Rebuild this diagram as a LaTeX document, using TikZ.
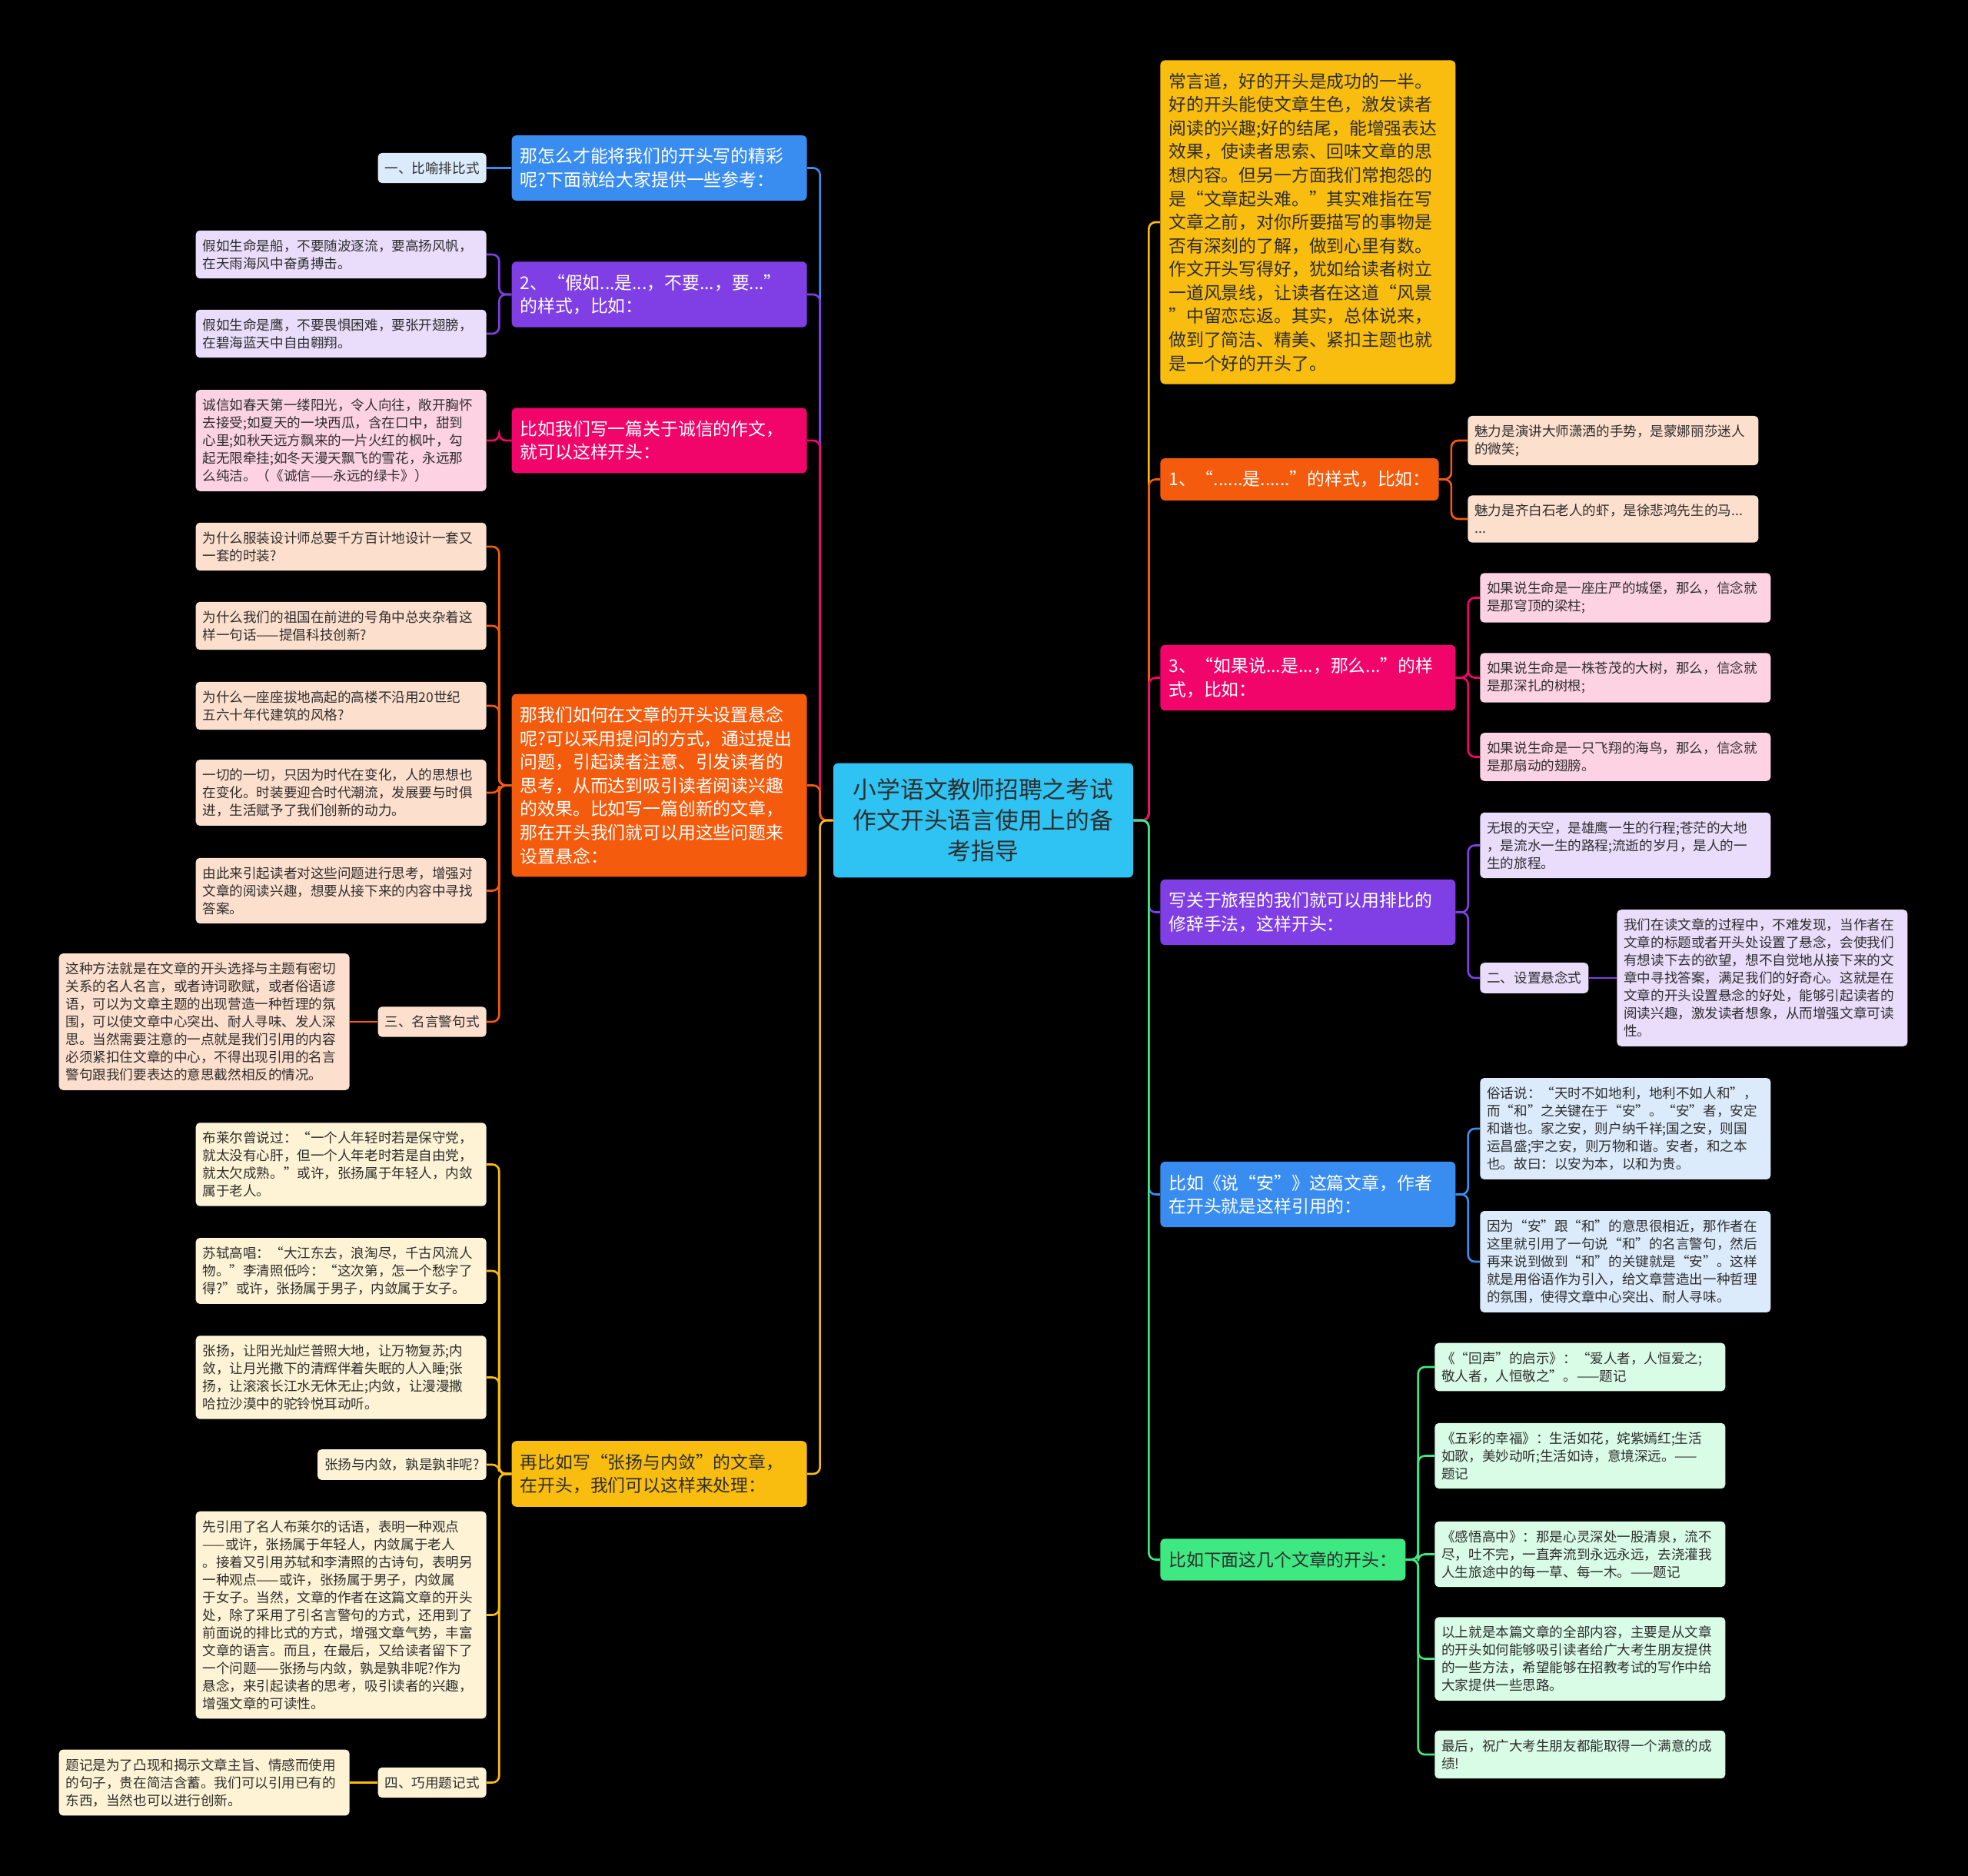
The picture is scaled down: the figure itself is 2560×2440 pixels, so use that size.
\documentclass[tikz,border=0pt]{standalone}
\usepackage{fontspec}
\newfontfamily\cjkfont{Noto Sans CJK SC}
\definecolor{rootcol}{HTML}{2EC3F2}
\definecolor{bluecol}{HTML}{3A8DF0}
\definecolor{purplecol}{HTML}{7F3FE5}
\definecolor{pinkcol}{HTML}{F2056B}
\definecolor{orangecol}{HTML}{F55B0D}
\definecolor{yellowcol}{HTML}{F9BD0F}
\definecolor{greencol}{HTML}{3EE982}
\definecolor{bluelt}{HTML}{DCEBFC}
\definecolor{purplelt}{HTML}{E9DDFB}
\definecolor{pinklt}{HTML}{FDD3E4}
\definecolor{orangelt}{HTML}{FDDFCD}
\definecolor{yellowlt}{HTML}{FEF3D4}
\definecolor{greenlt}{HTML}{D9FCE6}
\definecolor{textdark}{HTML}{2E2E2E}

\begin{document}
\begin{tikzpicture}[
  x=0.2mm, y=-0.2mm,
  every node/.style={font=\cjkfont},
  root/.style   = {rounded corners=3.5pt, fill=rootcol, text=textdark, align=center, text width=70mm, inner xsep=4mm, inner ysep=4mm, font=\cjkfont\fontsize{17.5pt}{22.8pt}\selectfont},
  branch/.style = {rounded corners=3.5pt, text=white, inner xsep=2.2mm, inner ysep=3.3mm, font=\cjkfont\fontsize{13pt}{17.4pt}\selectfont},
  main/.style   = {branch, align=flush left, text width=72.4mm},
  tag/.style    = {rounded corners=3pt, text=textdark, inner xsep=1.8mm, inner ysep=2.3mm, font=\cjkfont\fontsize{10pt}{13.1pt}\selectfont},
  leaf/.style   = {tag, align=flush left, text width=72mm},
  link/.style   = {line width=1.5pt, rounded corners=5pt},
]
  \fill[black] (0,0) rectangle (2560,2440);

  % centre
  \node[root] (root) at (1279,1067) {小学语文教师招聘之考试\\作文开头语言使用上的备\\考指导};

  % left branches
  \node[main, fill=bluecol, anchor=east]   (tigong)    at (1050,218.5) {那怎么才能将我们的开头写的精彩\\呢?下面就给大家提供一些参考：};
  \node[main, fill=purplecol, anchor=east] (jiaru)     at (1050,383)   {2、“假如...是...，不要...，要...”\\的样式，比如：};
  \node[main, fill=pinkcol, anchor=east]   (chengxin)  at (1050,573)   {比如我们写一篇关于诚信的作文，\\就可以这样开头：};
  \node[main, fill=orangecol, anchor=east] (xuannian)  at (1050,1021.5){那我们如何在文章的开头设置悬念\\呢?可以采用提问的方式，通过提出\\问题，引起读者注意、引发读者的\\思考，从而达到吸引读者阅读兴趣\\的效果。比如写一篇创新的文章，\\那在开头我们就可以用这些问题来\\设置悬念：};
  \node[main, fill=yellowcol, text=textdark, anchor=east] (zhangyang) at (1050,1917) {再比如写“张扬与内敛”的文章，\\在开头，我们可以这样来处理：};

  \node[tag, fill=bluelt, anchor=east]     (biyu)   at (633,218.5) {一、比喻排比式};
  \node[leaf, fill=purplelt, anchor=east]  (chuan)  at (633,331)  {假如生命是船，不要随波逐流，要高扬风帆，\\在天雨海风中奋勇搏击。};
  \node[leaf, fill=purplelt, anchor=east]  (ying)   at (633,434)  {假如生命是鹰，不要畏惧困难，要张开翅膀，\\在碧海蓝天中自由翱翔。};
  \node[leaf, fill=pinklt, anchor=east]    (chunt)  at (633,573)  {诚信如春天第一缕阳光，令人向往，敞开胸怀\\去接受;如夏天的一块西瓜，含在口中，甜到\\心里;如秋天远方飘来的一片火红的枫叶，勾\\起无限牵挂;如冬天漫天飘飞的雪花，永远那\\么纯洁。（《诚信——永远的绿卡》）};

  \node[leaf, fill=orangelt, anchor=east]  (wen1)   at (633,711)    {为什么服装设计师总要千方百计地设计一套又\\一套的时装?};
  \node[leaf, fill=orangelt, anchor=east]  (wen2)   at (633,814)    {为什么我们的祖国在前进的号角中总夹杂着这\\样一句话——提倡科技创新?};
  \node[leaf, fill=orangelt, anchor=east]  (wen3)   at (633,918)    {为什么一座座拔地高起的高楼不沿用20世纪\\五六十年代建筑的风格?};
  \node[leaf, fill=orangelt, anchor=east]  (wen4)   at (633,1031)   {一切的一切，只因为时代在变化，人的思想也\\在变化。时装要迎合时代潮流，发展要与时俱\\进，生活赋予了我们创新的动力。};
  \node[leaf, fill=orangelt, anchor=east]  (wen5)   at (633,1158.5) {由此来引起读者对这些问题进行思考，增强对\\文章的阅读兴趣，想要从接下来的内容中寻找\\答案。};
  \node[tag, fill=orangelt, anchor=east]   (mingyan)  at (633,1329) {三、名言警句式};
  \node[leaf, fill=orangelt, anchor=east]  (mingyanx) at (455,1329) {这种方法就是在文章的开头选择与主题有密切\\关系的名人名言，或者诗词歌赋，或者俗语谚\\语，可以为文章主题的出现营造一种哲理的氛\\围，可以使文章中心突出、耐人寻味、发人深\\思。当然需要注意的一点就是我们引用的内容\\必须紧扣住文章的中心，不得出现引用的名言\\警句跟我们要表达的意思截然相反的情况。};

  \node[leaf, fill=yellowlt, anchor=east]  (bulaier) at (633,1514.5) {布莱尔曾说过：“一个人年轻时若是保守党，\\就太没有心肝，但一个人年老时若是自由党，\\就太欠成熟。”或许，张扬属于年轻人，内敛\\属于老人。};
  \node[leaf, fill=yellowlt, anchor=east]  (sushi)   at (633,1653)   {苏轼高唱：“大江东去，浪淘尽，千古风流人\\物。”李清照低吟：“这次第，怎一个愁字了\\得?”或许，张扬属于男子，内敛属于女子。};
  \node[leaf, fill=yellowlt, anchor=east]  (yangguang) at (633,1791.5) {张扬，让阳光灿烂普照大地，让万物复苏;内\\敛，让月光撒下的清辉伴着失眠的人入睡;张\\扬，让滚滚长江水无休无止;内敛，让漫漫撒\\哈拉沙漠中的驼铃悦耳动听。};
  \node[tag, fill=yellowlt, anchor=east]   (shuishi) at (633,1905)   {张扬与内敛，孰是孰非呢?};
  \node[leaf, fill=yellowlt, anchor=east]  (xianyin) at (633,2100.5) {先引用了名人布莱尔的话语，表明一种观点\\——或许，张扬属于年轻人，内敛属于老人\\。接着又引用苏轼和李清照的古诗句，表明另\\一种观点——或许，张扬属于男子，内敛属\\于女子。当然，文章的作者在这篇文章的开头\\处，除了采用了引名言警句的方式，还用到了\\前面说的排比式的方式，增强文章气势，丰富\\文章的语言。而且，在最后，又给读者留下了\\一个问题——张扬与内敛，孰是孰非呢?作为\\悬念，来引起读者的思考，吸引读者的兴趣，\\增强文章的可读性。};
  \node[tag, fill=yellowlt, anchor=east]   (tiji)    at (633,2318.5) {四、巧用题记式};
  \node[leaf, fill=yellowlt, anchor=east]  (tijix)   at (455,2318.5) {题记是为了凸现和揭示文章主旨、情感而使用\\的句子，贵在简洁含蓄。我们可以引用已有的\\东西，当然也可以进行创新。};

  % right branches
  \node[main, fill=yellowcol, text=textdark, anchor=west] (changyan) at (1509,289) {常言道，好的开头是成功的一半。\\好的开头能使文章生色，激发读者\\阅读的兴趣;好的结尾，能增强表达\\效果，使读者思索、回味文章的思\\想内容。但另一方面我们常抱怨的\\是“文章起头难。”其实难指在写\\文章之前，对你所要描写的事物是\\否有深刻的了解，做到心里有数。\\作文开头写得好，犹如给读者树立\\一道风景线，让读者在这道“风景\\”中留恋忘返。其实，总体说来，\\做到了简洁、精美、紧扣主题也就\\是一个好的开头了。};
  \node[branch, fill=orangecol, anchor=west] (shiyang) at (1509,623.5)  {1、“......是......”的样式，比如：};
  \node[main, fill=pinkcol, anchor=west]     (ruguo)   at (1509,881.5)  {3、“如果说...是...，那么...”的样\\式，比如：};
  \node[main, fill=purplecol, anchor=west]   (lvcheng) at (1509,1186.5) {写关于旅程的我们就可以用排比的\\修辞手法，这样开头：};
  \node[main, fill=bluecol, anchor=west]     (shuoan)  at (1509,1553.5) {比如《说“安”》这篇文章，作者\\在开头就是这样引用的：};
  \node[branch, fill=greencol, text=textdark, anchor=west] (kaitou) at (1509,2028.5) {比如下面这几个文章的开头：};

  \node[leaf, fill=orangelt, anchor=west]  (meili1) at (1909,573) {魅力是演讲大师潇洒的手势，是蒙娜丽莎迷人\\的微笑;};
  \node[leaf, fill=orangelt, anchor=west]  (meili2) at (1909,675) {魅力是齐白石老人的虾，是徐悲鸿先生的马...\\...};
  \node[leaf, fill=pinklt, anchor=west]    (chengbao) at (1925,777.5) {如果说生命是一座庄严的城堡，那么，信念就\\是那穹顶的梁柱;};
  \node[leaf, fill=pinklt, anchor=west]    (dashu)    at (1925,881.5) {如果说生命是一株苍茂的大树，那么，信念就\\是那深扎的树根;};
  \node[leaf, fill=pinklt, anchor=west]    (hainiao)  at (1925,984.5) {如果说生命是一只飞翔的海鸟，那么，信念就\\是那扇动的翅膀。};
  \node[leaf, fill=purplelt, anchor=west]  (wuyin)    at (1925,1099.5) {无垠的天空，是雄鹰一生的行程;苍茫的大地\\，是流水一生的路程;流逝的岁月，是人的一\\生的旅程。};
  \node[tag, fill=purplelt, anchor=west]   (shezhi)   at (1925,1272) {二、设置悬念式};
  \node[leaf, fill=purplelt, anchor=west]  (shezhix)  at (2103,1272) {我们在读文章的过程中，不难发现，当作者在\\文章的标题或者开头处设置了悬念，会使我们\\有想读下去的欲望，想不自觉地从接下来的文\\章中寻找答案，满足我们的好奇心。这就是在\\文章的开头设置悬念的好处，能够引起读者的\\阅读兴趣，激发读者想象，从而增强文章可读\\性。};
  \node[leaf, fill=bluelt, anchor=west]    (suhua)    at (1925,1468) {俗话说：“天时不如地利，地利不如人和”，\\而“和”之关键在于“安”。“安”者，安定\\和谐也。家之安，则户纳千祥;国之安，则国\\运昌盛;宇之安，则万物和谐。安者，和之本\\也。故曰：以安为本，以和为贵。};
  \node[leaf, fill=bluelt, anchor=west]    (yinwei)   at (1925,1641) {因为“安”跟“和”的意思很相近，那作者在\\这里就引用了一句说“和”的名言警句，然后\\再来说到做到“和”的关键就是“安”。这样\\就是用俗语作为引入，给文章营造出一种哲理\\的氛围，使得文章中心突出、耐人寻味。};
  \node[leaf, fill=greenlt, anchor=west]   (huisheng) at (1866,1778)   {《“回声”的启示》：“爱人者，人恒爱之;\\敬人者，人恒敬之”。——题记};
  \node[leaf, fill=greenlt, anchor=west]   (wucai)    at (1866,1893.5) {《五彩的幸福》：生活如花，姹紫嫣红;生活\\如歌，美妙动听;生活如诗，意境深远。——\\题记};
  \node[leaf, fill=greenlt, anchor=west]   (ganwu)    at (1866,2021.5) {《感悟高中》：那是心灵深处一股清泉，流不\\尽，吐不完，一直奔流到永远永远，去浇灌我\\人生旅途中的每一草、每一木。——题记};
  \node[leaf, fill=greenlt, anchor=west]   (yishang)  at (1866,2157.5) {以上就是本篇文章的全部内容，主要是从文章\\的开头如何能够吸引读者给广大考生朋友提供\\的一些方法，希望能够在招教考试的写作中给\\大家提供一些思路。};
  \node[leaf, fill=greenlt, anchor=west]   (zuihou)   at (1866,2282)   {最后，祝广大考生朋友都能取得一个满意的成\\绩!};

  % connectors
  \foreach \b/\k in {tigong/bluecol,jiaru/purplecol,chengxin/pinkcol,xuannian/orangecol,zhangyang/yellowcol}
    \draw[link, color=\k] (root.west) -- ++(-17,0) |- (\b.east);
  \foreach \b/\k in {changyan/yellowcol,shiyang/orangecol,ruguo/pinkcol,lvcheng/purplecol,shuoan/bluecol,kaitou/greencol}
    \draw[link, color=\k] (root.east) -- ++(20,0) |- (\b.west);
  \foreach \p/\c/\k in {jiaru/chuan/purplecol,jiaru/ying/purplecol,chengxin/chunt/pinkcol,
      xuannian/wen1/orangecol,xuannian/wen2/orangecol,xuannian/wen3/orangecol,xuannian/wen4/orangecol,xuannian/wen5/orangecol,xuannian/mingyan/orangecol,
      zhangyang/bulaier/yellowcol,zhangyang/sushi/yellowcol,zhangyang/yangguang/yellowcol,zhangyang/shuishi/yellowcol,zhangyang/xianyin/yellowcol,zhangyang/tiji/yellowcol}
    \draw[link, color=\k] (\p.west) -- ++(-16,0) |- (\c.east);
  \foreach \p/\c/\k in {shiyang/meili1/orangecol,shiyang/meili2/orangecol,ruguo/chengbao/pinkcol,ruguo/dashu/pinkcol,ruguo/hainiao/pinkcol,
      lvcheng/wuyin/purplecol,lvcheng/shezhi/purplecol,shuoan/suhua/bluecol,shuoan/yinwei/bluecol,
      kaitou/huisheng/greencol,kaitou/wucai/greencol,kaitou/ganwu/greencol,kaitou/yishang/greencol,kaitou/zuihou/greencol}
    \draw[link, color=\k] (\p.east) -- ++(16,0) |- (\c.west);
  \draw[link, bluecol] (tigong.west) -- (biyu.east);
  \draw[link, orangecol] (mingyan.west) -- (mingyanx.east);
  \draw[link, yellowcol] (tiji.west) -- (tijix.east);
  \draw[link, purplecol] (shezhi.east) -- (shezhix.west);
\end{tikzpicture}
\end{document}
